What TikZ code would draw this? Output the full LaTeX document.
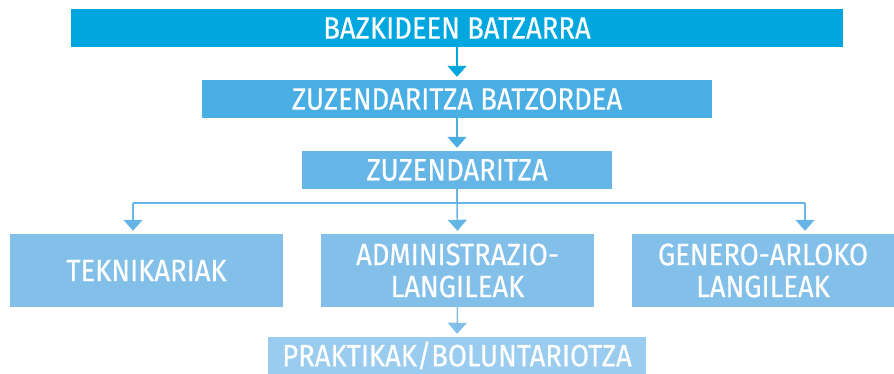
\documentclass[tikz,border=0pt]{standalone}
\usepackage{fontspec}
\setmainfont{Fira Sans}[FakeStretch=0.885, FakeBold=0.4]
\usetikzlibrary{arrows.meta,calc}
\definecolor{cA}{HTML}{00A6DE}
\definecolor{cB}{HTML}{48AEE3}
\definecolor{cC}{HTML}{65B6E6}
\definecolor{cD}{HTML}{82BFE9}
\definecolor{cE}{HTML}{9ACCF0}
\begin{document}
\begin{tikzpicture}[x=1pt,y=-1pt,
  box/.style={rectangle, inner sep=0pt, text=white, align=center,
    font=\fontsize{31}{32}\selectfont},
  conn/.style={line width=1.5pt, -{Triangle[width=19pt,length=11pt]}, shorten >=3pt}]
\useasboundingbox (0,0) rectangle (894,374);
\node[box, fill=cA, minimum width=772pt, minimum height=38pt] (bazk) at (457,28) {BAZKIDEEN BATZARRA};
\node[box, fill=cB, minimum width=510pt, minimum height=38pt] (zbat) at (457,99) {ZUZENDARITZA BATZORDEA};
\node[box, fill=cC, minimum width=310pt, minimum height=38pt] (zuz) at (457,170) {ZUZENDARITZA};
\node[box, fill=cD, minimum width=273pt, minimum height=73pt] (tekn) at (146.5,270.5) {TEKNIKARIAK};
\node[box, fill=cD, minimum width=273pt, minimum height=73pt] (admin) at (457.5,270.5) {ADMINISTRAZIO-\\LANGILEAK};
\node[box, fill=cD, minimum width=262pt, minimum height=73pt] (gen) at (763,270.5) {GENERO-ARLOKO\\LANGILEAK};
\node[box, fill=cE, minimum width=378pt, minimum height=37pt] (prak) at (457,355.5) {PRAKTIKAK/BOLUNTARIOTZA};
\coordinate (jn) at (457,203);
\coordinate (lx) at (133,203);
\coordinate (rx) at (805,203);
\draw[conn, draw=cA, fill=cA] (bazk.south) -- (zbat.north);
\draw[conn, draw=cB, fill=cB] (zbat.south) -- (zuz.north);
\draw[line width=1.5pt, draw=cC] (zuz.south) -- (jn);
\draw[line width=1.5pt, draw=cC] (lx) -- (rx);
\draw[conn, draw=cC, fill=cC] (jn) -- (admin.north);
\draw[conn, draw=cC, fill=cC] (lx) -- (lx |- tekn.north);
\draw[conn, draw=cC, fill=cC] (rx) -- (rx |- gen.north);
\draw[conn, draw=cD, fill=cD] (admin.south) -- (prak.north);
\end{tikzpicture}
\end{document}
